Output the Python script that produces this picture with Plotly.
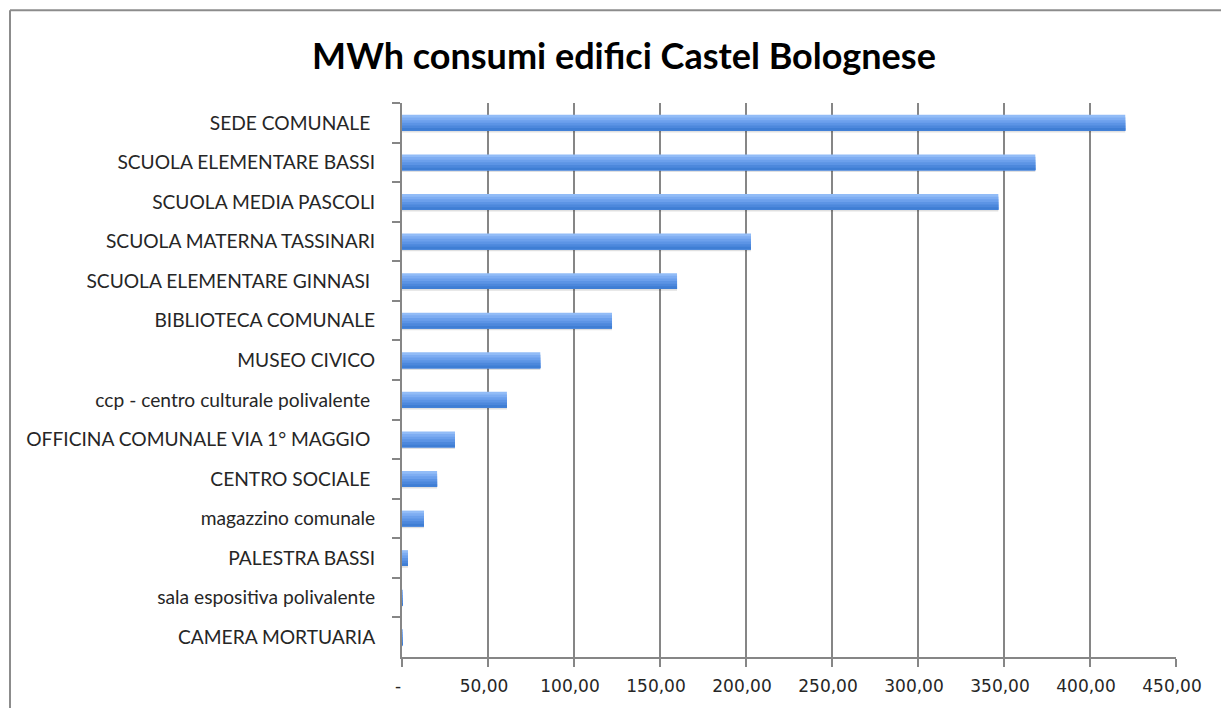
import plotly.graph_objects as go

buildings = [
    "SEDE COMUNALE ",
    "SCUOLA ELEMENTARE BASSI",
    "SCUOLA MEDIA PASCOLI",
    "SCUOLA MATERNA TASSINARI",
    "SCUOLA ELEMENTARE GINNASI ",
    "BIBLIOTECA COMUNALE",
    "MUSEO CIVICO",
    "ccp - centro culturale polivalente ",
    "OFFICINA COMUNALE VIA 1° MAGGIO ",
    "CENTRO SOCIALE ",
    "magazzino comunale",
    "PALESTRA BASSI",
    "sala espositiva polivalente",
    "CAMERA MORTUARIA",
]
mwh = [420.5, 368.2, 346.7, 202.9, 159.9, 122.1, 80.4, 61.0, 30.8, 20.4, 12.8, 3.5, 0.3, 0.2]

tick_vals = [0, 50, 100, 150, 200, 250, 300, 350, 400, 450]
tick_text = ["-", "50,00", "100,00", "150,00", "200,00", "250,00", "300,00", "350,00", "400,00", "450,00"]

# page body has an 8px margin, so everything is laid out 8px up/left
OFF = 8
L, T, PW, PH = 402 - OFF, 103 - OFF, 774, 556
W, H = 1229 - OFF, 708 - OFF

# fake the Excel gradient: dark at the bottom, light at the top
strips = ["#3f7ed4", "#4d88dc", "#5c94e5", "#6ca0ec", "#7eadf2", "#92bcf7"]
bar_w = 0.4
strip_w = bar_w / len(strips)

fig = go.Figure()

# soft shadow under each bar
fig.add_trace(go.Bar(
    x=mwh, y=buildings, orientation="h",
    width=bar_w, offset=-bar_w / 2 + 0.045,
    marker=dict(color="rgba(0,0,0,0.12)", line=dict(width=0)),
    hoverinfo="skip", showlegend=False,
))
for k in range(len(strips) - 1, -1, -1):
    w = (k + 1) * strip_w
    fig.add_trace(go.Bar(
        x=mwh, y=buildings, orientation="h",
        width=w, offset=bar_w / 2 - w,
        marker=dict(color=strips[k], line=dict(width=0)),
        showlegend=False,
    ))

# chart border (only top and left are visible in the picture)
bx = (10 - OFF - L) / PW
by = (T + PH - (10 - OFF)) / PH
fig.add_shape(type="line", xref="paper", yref="paper",
              x0=bx, x1=2, y0=by, y1=by,
              line=dict(color="#8c8c8c", width=2))
fig.add_shape(type="line", xref="paper", yref="paper",
              x0=bx, x1=bx, y0=by, y1=-1,
              line=dict(color="#8c8c8c", width=2))

fig.update_layout(
    width=W, height=H,
    barmode="overlay",
    paper_bgcolor="white", plot_bgcolor="white",
    margin=dict(l=L, r=W - L - PW, t=T, b=H - T - PH),
    title=dict(text="<b>MWh consumi edifici Castel Bolognese</b>",
               x=(624 - OFF) / W, xanchor="center", xref="container",
               y=1 - (56 - OFF) / H, yanchor="middle", yref="container",
               font=dict(family="Lato", size=36, color="black")),
    font=dict(family="Lato", color="#262626"),
)
fig.update_xaxes(
    range=[0, 450], tickvals=tick_vals, ticktext=tick_text,
    showgrid=True, gridcolor="#868686", gridwidth=2,
    showline=True, linecolor="#868686", linewidth=2,
    ticks="outside", ticklen=8, tickwidth=2, tickcolor="#868686",
    tickfont=dict(family="DejaVu Sans", size=17, color="#262626"),
    ticklabelstandoff=5, ticklabelshift=-4,
    zeroline=False, fixedrange=True,
)
fig.update_yaxes(
    autorange="reversed", type="category", tickson="boundaries",
    showline=True, linecolor="#868686", linewidth=2,
    ticks="outside", ticklen=8, tickwidth=2, tickcolor="#868686",
    tickfont=dict(family="Lato", size=19.2, color="#262626"),
    ticklabelstandoff=21, showgrid=False,
)

fig.write_html("out.html")
